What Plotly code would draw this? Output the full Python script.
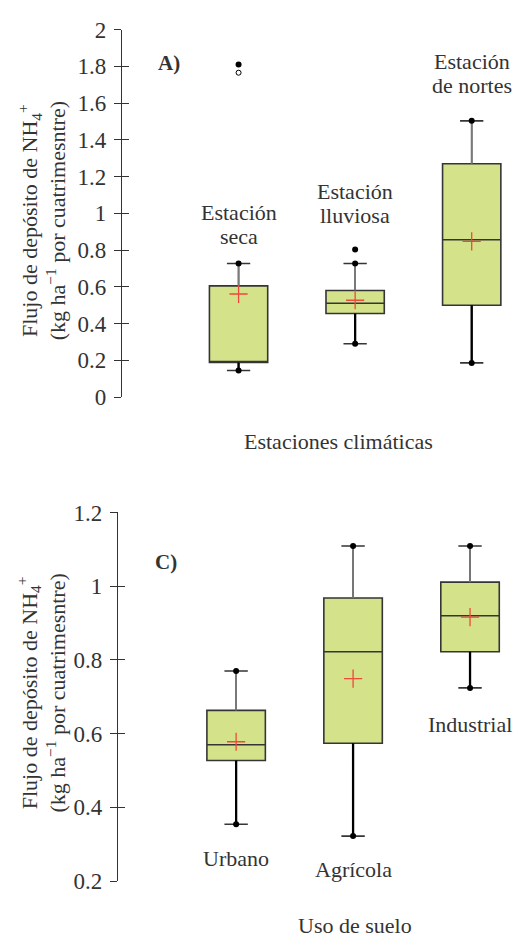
import plotly.graph_objects as go

# ---------------- Data ----------------
# Panel A: climatic seasons
seasons = ["Estación seca", "Estación lluviosa", "Estación de nortes"]
season_labels = ["Estación<br>seca", "Estación<br>lluviosa", "Estación<br>de nortes"]
season_lower = [0.145, 0.29, 0.186]
season_q1 = [0.188, 0.455, 0.50]
season_median = [0.192, 0.511, 0.856]
season_q3 = [0.605, 0.58, 1.27]
season_upper = [0.727, 0.727, 1.503]
season_mean = [0.561, 0.527, 0.847]
season_out_filled_x = ["Estación seca", "Estación lluviosa"]
season_out_filled_y = [1.81, 0.803]
season_out_open_x = ["Estación seca"]
season_out_open_y = [1.765]
season_label_y = [0.874, 0.989, 1.695]   # centre of last label line

# Panel C: land use
landuse = ["Urbano", "Agrícola", "Industrial"]
landuse_lower = [0.354, 0.322, 0.724]
landuse_q1 = [0.527, 0.574, 0.822]
landuse_median = [0.570, 0.822, 0.920]
landuse_q3 = [0.663, 0.968, 1.011]
landuse_upper = [0.770, 1.109, 1.109]
landuse_mean = [0.578, 0.749, 0.916]
landuse_label_y = [0.261, 0.230, 0.626]

yticks_A = [0, 0.2, 0.4, 0.6, 0.8, 1, 1.2, 1.4, 1.6, 1.8, 2]
yticks_A_text = ["0", "0.2", "0.4", "0.6", "0.8", "1", "1.2", "1.4", "1.6", "1.8", "2"]
yticks_C = [0.2, 0.4, 0.6, 0.8, 1, 1.2]
yticks_C_text = ["0.2", "0.4", "0.6", "0.8", "1", "1.2"]

# ---------------- Style ----------------
FONT = "Liberation Serif,serif"
TXT = "#333333"
FILL = "#d4e38a"
EDGE = "#353535"
UPW = "#7a7a7a"
MEANC = "#f0483a"
W, H = 516, 951

fig = go.Figure()


def seg(cats, a, b):
    xs, ys = [], []
    for c, y0, y1 in zip(cats, a, b):
        xs += [c, c, None]
        ys += [y0, y1, None]
    return xs, ys


def add_panel(cats, lower, q1, med, q3, upper, mean, xa, ya):
    fig.add_trace(go.Box(
        x=cats, lowerfence=lower, q1=q1, median=med, q3=q3, upperfence=upper,
        fillcolor=FILL, line=dict(color=EDGE, width=1.6), width=0.5,
        whiskerwidth=0.4, boxpoints=False, xaxis=xa, yaxis=ya, hoverinfo="skip"))
    # upper whiskers in grey, lower whiskers in heavier black
    ux, uy = seg(cats, q3, upper)
    fig.add_trace(go.Scatter(x=ux, y=uy, mode="lines", line=dict(color=UPW, width=1.7),
                             xaxis=xa, yaxis=ya, hoverinfo="skip"))
    lx, ly = seg(cats, lower, q1)
    fig.add_trace(go.Scatter(x=lx, y=ly, mode="lines", line=dict(color="black", width=2.3),
                             xaxis=xa, yaxis=ya, hoverinfo="skip"))
    fig.add_trace(go.Scatter(
        x=cats + cats, y=lower + upper, mode="markers",
        marker=dict(color="black", size=6, symbol="circle"),
        xaxis=xa, yaxis=ya, hoverinfo="skip"))
    fig.add_trace(go.Scatter(
        x=cats, y=mean, mode="markers",
        marker=dict(symbol="cross-thin", size=13, line=dict(color=MEANC, width=1.3)),
        xaxis=xa, yaxis=ya, hoverinfo="skip"))


add_panel(seasons, season_lower, season_q1, season_median, season_q3,
          season_upper, season_mean, "x", "y")
fig.add_trace(go.Scatter(x=season_out_filled_x, y=season_out_filled_y, mode="markers",
                         marker=dict(color="black", size=6), xaxis="x", yaxis="y"))
fig.add_trace(go.Scatter(x=season_out_open_x, y=season_out_open_y, mode="markers",
                         marker=dict(symbol="circle-open", color="black", size=5,
                                     line=dict(width=1)), xaxis="x", yaxis="y"))

add_panel(landuse, landuse_lower, landuse_q1, landuse_median, landuse_q3,
          landuse_upper, landuse_mean, "x2", "y2")

# ---------------- Axes ----------------
yA_dom = [1 - 395.5 / H, 1 - 18 / H]
yC_dom = [1 - 892.5 / H, 1 - 514 / H]

common_y = dict(showgrid=False, zeroline=False, showline=True, linecolor=TXT, linewidth=1.2,
                ticks="outside", ticklen=7, tickwidth=1.2, tickcolor=TXT,
                tickfont=dict(family=FONT, size=23, color=TXT), ticklabelstandoff=3)
overlay_y = dict(showgrid=False, zeroline=False, showline=False, ticks="inside", ticklen=7,
                 tickwidth=1.2, tickcolor=TXT, showticklabels=False)

fig.update_layout(
    width=W, height=H, margin=dict(l=0, r=0, t=0, b=0),
    plot_bgcolor="white", paper_bgcolor="white", showlegend=False,
    font=dict(family=FONT, color=TXT),
    xaxis=dict(domain=[122 / W, 1], range=[-1.0, 2.38], visible=False,
               type="category", categoryarray=seasons, anchor="y"),
    yaxis=dict(domain=yA_dom, range=[0, 2], tickvals=yticks_A, ticktext=yticks_A_text,
               anchor="x", **common_y),
    yaxis3=dict(overlaying="y", range=[0, 2], tickvals=yticks_A, anchor="x", **overlay_y),
    xaxis2=dict(domain=[118 / W, 1], range=[-1.01, 2.393], visible=False,
                type="category", categoryarray=landuse, anchor="y2"),
    yaxis2=dict(domain=yC_dom, range=[0.2, 1.2], tickvals=yticks_C, ticktext=yticks_C_text,
                anchor="x2", **common_y),
    yaxis4=dict(overlaying="y2", range=[0.2, 1.2], tickvals=yticks_C, anchor="x2", **overlay_y),
)
# invisible traces so the overlay tick axes render
fig.add_trace(go.Scatter(x=[seasons[0]], y=[1], xaxis="x", yaxis="y3", mode="markers",
                         marker=dict(opacity=0), hoverinfo="skip"))
fig.add_trace(go.Scatter(x=[landuse[0]], y=[1], xaxis="x2", yaxis="y4", mode="markers",
                         marker=dict(opacity=0), hoverinfo="skip"))

# ---------------- Annotations ----------------
f_lab = dict(family=FONT, size=22, color=TXT)
LINE_GAP = 24
for c, lab, yv in zip(seasons, season_labels, season_label_y):
    lines = lab.split("<br>")
    n = len(lines)
    for i, ln in enumerate(lines):
        fig.add_annotation(x=c, y=yv, xref="x", yref="y", text=ln, showarrow=False,
                           xanchor="center", yanchor="middle",
                           yshift=(n - 1 - i) * LINE_GAP, font=f_lab)
for c, yv in zip(landuse, landuse_label_y):
    fig.add_annotation(x=c, y=yv, xref="x2", yref="y2", text=c, showarrow=False,
                       xanchor="center", yanchor="middle", font=f_lab)

fig.add_annotation(x=-0.6, y=1.82, xref="x", yref="y", text="<b>A)</b>", showarrow=False,
                   xanchor="center", yanchor="middle",
                   font=dict(family=FONT, size=21, color=TXT))
fig.add_annotation(x=-0.6, y=1.066, xref="x2", yref="y2", text="<b>C)</b>", showarrow=False,
                   xanchor="center", yanchor="middle",
                   font=dict(family=FONT, size=21, color=TXT))

fig.add_annotation(x=338 / W, y=1 - 441 / H, xref="paper", yref="paper",
                   text="Estaciones climáticas", showarrow=False,
                   xanchor="center", yanchor="middle", font=f_lab)
fig.add_annotation(x=355 / W, y=0, xref="paper", yref="paper",
                   text="Uso de suelo", showarrow=False,
                   xanchor="center", yanchor="bottom", yshift=-2, font=f_lab)

ytitle = "Flujo de depósito de NH<sub>4</sub><sup>+</sup><br>(kg ha<sup>−1</sup> por cuatrimesntre)"
fig.add_annotation(x=42 / W, y=1 - 215 / H, xref="paper", yref="paper", text=ytitle,
                   textangle=-90, showarrow=False, xanchor="center", yanchor="middle",
                   font=f_lab)
fig.add_annotation(x=42 / W, y=1 - 700 / H, xref="paper", yref="paper", text=ytitle,
                   textangle=-90, showarrow=False, xanchor="center", yanchor="middle",
                   font=f_lab)

fig.write_html("out.html")
